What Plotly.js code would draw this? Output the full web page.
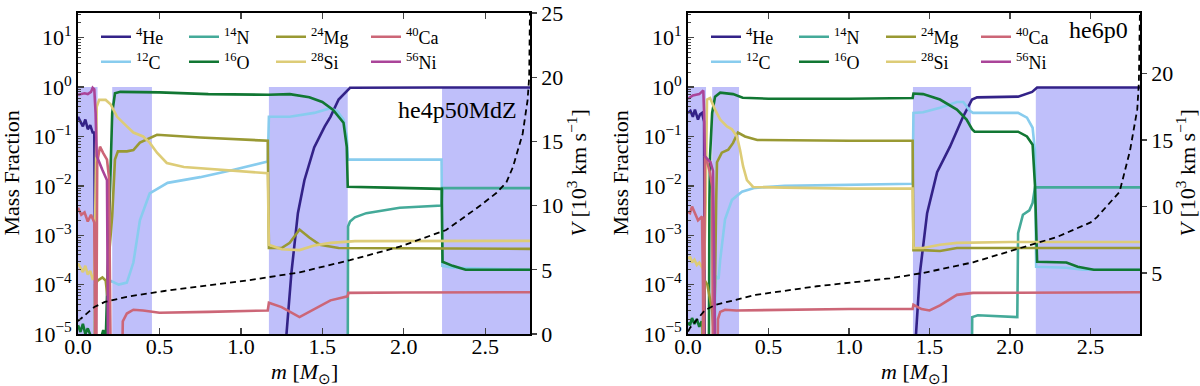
<!DOCTYPE html>
<html>
<head>
<meta charset="utf-8">
<script src="https://cdn.plot.ly/plotly-3.0.1.min.js"></script>
<style>
  body { margin: 0; background: #fff; }
  #chart { width: 1200px; height: 386px; }
</style>
</head>
<body>
<div id="chart"></div>
<script>
// values (mass fraction vs enclosed mass, V in 10^3 km/s)

// --- left panel: he4p50MdZ ---
const heL_x = [0, 0.015, 0.03, 0.045, 0.06, 0.075, 0.09, 0.1, 0.105, 0.11, 1.27, 1.28, 1.31, 1.35, 1.39, 1.45, 1.515, 1.55, 1.6, 1.67, 2.2, 2.775];
const heL_y = [0.25, 0.2, 0.16, 0.22, 0.14, 0.17, 0.12, 0.12, 1e-3, 1e-7, 1e-7, 1e-5, 1.7e-4, 2.8e-3, 1.3e-2, 6e-2, 0.16, 0.25, 0.56, 0.97, 0.98, 0.98];
const cL_x = [0.178, 0.185, 0.2, 0.25, 0.3, 0.34, 0.38, 0.44, 0.55, 0.75, 0.95, 1.165, 1.172, 1.3, 1.45, 1.545, 1.59, 1.63, 1.65, 1.657, 2.232, 2.237, 2.3, 2.775];
const cL_y = [1e-7, 9e-5, 1.2e-4, 1e-4, 1.1e-4, 2.8e-4, 2e-3, 7e-3, 1.15e-2, 1.5e-2, 2.1e-2, 3.1e-2, 0.25, 0.25, 0.3, 0.37, 0.33, 0.22, 0.1, 0.034, 0.034, 2.4e-4, 2.2e-4, 2.0e-4];
const nL_x = [1.655, 1.658, 1.67, 1.7, 1.77, 1.85, 1.975, 2.232, 2.237, 2.775];
const nL_y = [1e-7, 1.5e-3, 1.9e-3, 2.3e-3, 2.8e-3, 3.1e-3, 3.6e-3, 4.0e-3, 9e-3, 9e-3];
const oL_x = [0, 0.015, 0.03, 0.045, 0.06, 0.075, 0.085, 0.09, 0.13, 0.14, 0.155, 0.17, 0.18, 0.19, 0.2, 0.21, 0.227, 0.26, 0.5, 0.8, 1.17, 1.3, 1.42, 1.5, 1.565, 1.63, 1.65, 1.656, 1.9, 2.233, 2.238, 2.3, 2.38, 2.775];
const oL_y = [1.5e-5, 1.1e-5, 1.6e-5, 1.0e-5, 1.3e-5, 1.0e-5, 8e-6, 1e-7, 1e-7, 8e-6, 1.2e-5, 7e-6, 1e-4, 2e-3, 2e-2, 0.3, 0.75, 0.8, 0.78, 0.72, 0.7, 0.72, 0.62, 0.5, 0.35, 0.19, 0.062, 0.0096, 0.0092, 0.0087, 2.9e-4, 2.4e-4, 2.0e-4, 2.0e-4];
const mgL_x = [0.1, 0.105, 0.12, 0.15, 0.17, 0.18, 0.185, 0.21, 0.227, 0.245, 0.3, 0.34, 0.38, 0.485, 0.75, 1.165, 1.172, 1.25, 1.3, 1.36, 1.42, 1.485, 1.6, 2.0, 2.775];
const mgL_y = [1e-7, 1e-4, 1.2e-4, 1.4e-4, 1.2e-4, 6e-5, 2.3e-4, 2.5e-3, 3.4e-2, 5e-2, 5e-2, 5.3e-2, 7.5e-2, 0.108, 0.095, 0.082, 5.5e-4, 5.5e-4, 7e-4, 1.3e-3, 9e-4, 6.4e-4, 5.5e-4, 5.4e-4, 5.3e-4];
const siL_x = [0, 0.015, 0.03, 0.045, 0.06, 0.075, 0.09, 0.1, 0.105, 0.115, 0.13, 0.17, 0.2, 0.24, 0.3, 0.34, 0.4, 0.44, 0.485, 0.545, 0.65, 0.9, 1.165, 1.172, 1.25, 1.36, 1.45, 1.55, 1.7, 2.775];
const siL_y = [2.7e-4, 2.2e-4, 1.8e-4, 2.4e-4, 1.6e-4, 1.9e-4, 1.3e-4, 1.3e-4, 5e-3, 0.4, 0.55, 0.55, 0.45, 0.25, 0.16, 0.12, 0.1, 0.075, 0.047, 0.029, 0.024, 0.021, 0.018, 6.4e-4, 5.2e-4, 5.0e-4, 6.2e-4, 7.0e-4, 7.6e-4, 7.7e-4];
const caL_x = [0, 0.02, 0.04, 0.06, 0.08, 0.1, 0.104, 0.11, 0.118, 0.135, 0.155, 0.178, 0.19, 0.205, 0.265, 0.275, 0.3, 0.34, 0.4, 0.5, 0.8, 1.165, 1.172, 1.25, 1.36, 1.45, 1.55, 1.655, 1.66, 2.0, 2.775];
const caL_y = [3.6e-3, 2.6e-3, 2.9e-3, 1.9e-3, 2.6e-3, 1.8e-3, 1e-4, 1e-7, 0.03, 0.062, 0.046, 0.034, 0.015, 1e-7, 1e-7, 1.8e-5, 2.6e-5, 3.1e-5, 3.0e-5, 2.7e-5, 2.8e-5, 3.0e-5, 4.3e-5, 3.5e-5, 2.2e-5, 3.2e-5, 4.8e-5, 5.8e-5, 6.8e-5, 6.9e-5, 7.0e-5];
const niL_x = [0, 0.02, 0.04, 0.06, 0.08, 0.09, 0.1, 0.108, 0.115, 0.15, 0.178, 0.182, 0.186];
const niL_y = [0.7, 0.72, 0.75, 0.72, 0.8, 0.97, 0.9, 0.3, 0.04, 0.021, 0.013, 1e-4, 1e-7];
const vL_x = [0, 0.03, 0.1, 0.165, 0.3, 0.53, 0.8, 1.055, 1.36, 1.67, 1.975, 2.26, 2.47, 2.57, 2.63, 2.67, 2.73, 2.76, 2.77, 2.775];
const vL_y = [1.0, 1.35, 2.1, 2.5, 2.9, 3.35, 3.8, 4.2, 4.8, 5.75, 6.8, 8.1, 10.0, 11.0, 11.8, 13.0, 15.6, 18.2, 20.0, 25.5];
const shadeL = [[0, 0.12], [0.21, 0.454], [1.172, 1.656], [2.235, 2.775]];

// --- right panel: he6p0 ---
const heR_x = [0, 0.015, 0.03, 0.043, 0.062, 0.075, 0.087, 0.095, 0.1, 0.105, 1.41, 1.416, 1.44, 1.485, 1.547, 1.627, 1.677, 1.708, 1.764, 1.795, 2.05, 2.08, 2.137, 2.168, 2.807];
const heR_y = [0.3, 0.33, 0.25, 0.35, 0.22, 0.28, 0.3, 0.22, 0.2, 1e-7, 1e-7, 1e-5, 1.7e-4, 2.8e-3, 1.9e-2, 6.2e-2, 0.14, 0.25, 0.56, 0.62, 0.64, 0.7, 0.8, 0.98, 0.98];
const cR_x = [0.165, 0.17, 0.19, 0.2, 0.23, 0.273, 0.335, 0.416, 0.6, 0.9, 1.395, 1.4, 1.46, 1.565, 1.67, 1.71, 1.75, 1.77, 2.05, 2.105, 2.14, 2.155, 2.162, 2.35, 2.45, 2.807];
const cR_y = [1e-7, 1.5e-4, 1.3e-4, 3.2e-4, 2.1e-3, 5.2e-3, 7.6e-3, 9.1e-3, 1.0e-2, 1.05e-2, 1.1e-2, 0.3, 0.31, 0.38, 0.5, 0.5, 0.33, 0.3, 0.3, 0.24, 0.15, 0.05, 2.3e-4, 2.2e-4, 2.0e-4, 2.0e-4];
const nR_x = [1.76, 1.765, 1.8, 2.045, 2.05, 2.08, 2.12, 2.14, 2.155, 2.807];
const nR_y = [1e-7, 2.2e-5, 2.4e-5, 2.2e-5, 1.1e-3, 2.6e-3, 3.2e-3, 4.5e-3, 9.3e-3, 9.3e-3];
const oR_x = [0, 0.012, 0.025, 0.04, 0.055, 0.07, 0.085, 0.095, 0.1, 0.128, 0.133, 0.137, 0.15, 0.168, 0.2, 0.28, 0.34, 0.5, 1.0, 1.395, 1.4, 1.46, 1.565, 1.67, 1.73, 1.764, 1.78, 2.05, 2.105, 2.14, 2.155, 2.168, 2.35, 2.42, 2.52, 2.807];
const oR_y = [1.7e-5, 1.5e-5, 2.1e-5, 1.6e-5, 2.0e-5, 1.4e-5, 1.8e-5, 1.2e-5, 1e-7, 1e-7, 5e-3, 0.04, 0.3, 0.64, 0.77, 0.72, 0.61, 0.58, 0.58, 0.6, 0.74, 0.72, 0.56, 0.35, 0.22, 0.14, 0.125, 0.125, 0.1, 0.068, 0.01, 2.9e-4, 2.8e-4, 2.3e-4, 2.0e-4, 2.0e-4];
const mgR_x = [0.085, 0.09, 0.1, 0.105, 0.12, 0.15, 0.16, 0.168, 0.175, 0.18, 0.21, 0.25, 0.28, 0.31, 0.354, 0.43, 1.0, 1.395, 1.4, 1.46, 1.565, 1.67, 2.0, 2.807];
const mgR_y = [1e-7, 1.3e-5, 5e-5, 1.2e-4, 1e-4, 3e-5, 1e-5, 1e-4, 5e-3, 0.03, 0.047, 0.054, 0.074, 0.12, 0.1, 0.085, 0.082, 0.082, 5.0e-4, 5.0e-4, 4.8e-4, 5.5e-4, 5.5e-4, 5.5e-4];
const siR_x = [0, 0.012, 0.025, 0.04, 0.055, 0.07, 0.085, 0.1, 0.11, 0.118, 0.137, 0.168, 0.2, 0.242, 0.273, 0.304, 0.323, 0.342, 0.366, 0.404, 0.6, 1.0, 1.395, 1.4, 1.46, 1.565, 1.67, 2.0, 2.807];
const siR_y = [3.3e-4, 3.7e-4, 2.8e-4, 3.2e-4, 2.5e-4, 2.8e-4, 2.3e-4, 2.0e-4, 5e-3, 0.56, 0.6, 0.35, 0.22, 0.16, 0.14, 0.1, 0.054, 0.025, 0.013, 0.0095, 0.0092, 0.0088, 0.0088, 5.5e-4, 5.5e-4, 6.4e-4, 7.0e-4, 7.3e-4, 7.3e-4];
const caR_x = [0, 0.012, 0.025, 0.043, 0.062, 0.087, 0.093, 0.098, 0.105, 0.12, 0.137, 0.15, 0.156, 0.18, 0.186, 0.2, 0.23, 0.3, 0.6, 1.0, 1.395, 1.4, 1.45, 1.5, 1.565, 1.67, 1.77, 2.807];
const caR_y = [3.0e-3, 2.8e-3, 3.8e-3, 2.8e-3, 2.0e-3, 2.4e-3, 1e-4, 1e-7, 0.04, 0.03, 0.018, 0.0096, 1e-7, 1e-7, 2.0e-5, 2.8e-5, 3.1e-5, 3.0e-5, 3.1e-5, 3.2e-5, 3.2e-5, 3.9e-5, 3.2e-5, 3.0e-5, 3.8e-5, 6.2e-5, 6.8e-5, 7.0e-5];
const niR_x = [0, 0.015, 0.03, 0.05, 0.07, 0.085, 0.095, 0.1, 0.105, 0.12, 0.14, 0.155, 0.165, 0.17];
const niR_y = [0.58, 0.62, 0.68, 0.7, 0.72, 0.8, 0.85, 0.3, 0.04, 0.035, 0.03, 0.02, 1e-4, 1e-7];
const vR_x = [0, 0.012, 0.105, 0.17, 0.42, 0.8, 1.255, 1.46, 1.77, 2.08, 2.29, 2.5, 2.54, 2.68, 2.745, 2.79, 2.8, 2.807];
const vR_y = [0.6, 0.86, 2.2, 2.6, 3.35, 4.0, 4.6, 5.0, 5.8, 6.9, 7.7, 8.8, 9.2, 11.1, 14.2, 17.3, 19.3, 25];
const shadeR = [[0, 0.112], [0.15, 0.317], [1.397, 1.758], [2.16, 2.807]];

// species: plotting order, labels, colours (Tol muted)
const speciesNames = ['He4', 'C12', 'N14', 'O16', 'Mg24', 'Si28', 'Ca40', 'Ni56'];
const speciesLabels = ['<sup>4</sup>He', '<sup>12</sup>C', '<sup>14</sup>N', '<sup>16</sup>O',
                       '<sup>24</sup>Mg', '<sup>28</sup>Si', '<sup>40</sup>Ca', '<sup>56</sup>Ni'];
const speciesColors = ['#332288', '#88CCEE', '#44AA99', '#117733', '#999933', '#DDCC77', '#CC6677', '#AA4499'];
const massTicks = [0, 0.5, 1, 1.5, 2, 2.5];
const fracTicks = [1e-5, 1e-4, 1e-3, 1e-2, 1e-1, 1, 10];
const fracTickText = ['10<sup>−5</sup>', '10<sup>−4</sup>', '10<sup>−3</sup>', '10<sup>−2</sup>',
                      '10<sup>−1</sup>', '10<sup>0</sup>', '10<sup>1</sup>'];

const W = 1200, H = 386;
const FONT = 'Liberation Serif';
const plotTop = 13, plotBottom = 334;

const panels = [
  { xa: 'x', ya: 'y', va: 'y2', left: 78, right: 530, xmax: 2.775,
    vrange: [0, 25], vticks: [0, 5, 10, 15, 20, 25], name: 'he4p50MdZ', namePos: [519, 110],
    fracTitleX: 11, velTitleX: 576,
    series: [[heL_x, heL_y], [cL_x, cL_y], [nL_x, nL_y], [oL_x, oL_y], [mgL_x, mgL_y], [siL_x, siL_y], [caL_x, caL_y], [niL_x, niL_y]],
    vel: [vL_x, vL_y], shade: shadeL },
  { xa: 'x2', ya: 'y3', va: 'y4', left: 688, right: 1140, xmax: 2.807,
    vrange: [0.41, 24.55], vticks: [5, 10, 15, 20], name: 'he6p0', namePos: [1130, 30],
    fracTitleX: 620, velTitleX: 1185,
    series: [[heR_x, heR_y], [cR_x, cR_y], [nR_x, nR_y], [oR_x, oR_y], [mgR_x, mgR_y], [siR_x, siR_y], [caR_x, caR_y], [niR_x, niR_y]],
    vel: [vR_x, vR_y], shade: shadeR }
];

// legend: 4 columns x 2 rows, filled column-wise like the original
const legendTextOffset = [60, 148, 235, 330];   // px from plot left edge
const legendRowY = [37, 62];

const traces = [];
const layout = {
  width: W, height: H,
  margin: { l: 0, r: 0, t: 0, b: 0 },
  paper_bgcolor: '#fff', plot_bgcolor: '#fff',
  font: { family: FONT, color: '#000', size: 20 },
  showlegend: true,
  annotations: []
};

let legendCount = 0;
panels.forEach((p) => {
  const ySuffix = p.ya.slice(1), xSuffix = p.xa.slice(1);

  // shaded zones as a filled polygon trace
  const sx = [], sy = [];
  p.shade.forEach(([a, b]) => { sx.push(a, a, b, b, null); sy.push(1e-6, 1, 1, 1e-6, null); });
  traces.push({ x: sx, y: sy, xaxis: p.xa, yaxis: p.ya, mode: 'none', fill: 'toself',
    fillcolor: 'rgb(191,191,250)', showlegend: false, hoverinfo: 'skip' });

  speciesNames.forEach((sp, i) => {
    legendCount++;
    const lid = legendCount === 1 ? 'legend' : 'legend' + legendCount;
    traces.push({ x: p.series[i][0], y: p.series[i][1], xaxis: p.xa, yaxis: p.ya,
      mode: 'lines', name: speciesLabels[i], legend: lid,
      line: { color: speciesColors[i], width: 2.6 } });
    const col = Math.floor(i / 2), row = i % 2;
    layout[lid] = {
      x: (p.left + legendTextOffset[col] - 42) / W, xanchor: 'left',
      y: 1 - legendRowY[row] / H, yanchor: 'middle',
      bgcolor: 'rgba(0,0,0,0)', borderwidth: 0,
      font: { family: FONT, size: 18, color: '#000' }
    };
  });

  traces.push({ x: p.vel[0], y: p.vel[1], xaxis: p.xa, yaxis: p.va, mode: 'lines',
    line: { color: '#000', width: 1.8, dash: '6px,4px' }, showlegend: false });

  const xKey = 'xaxis' + (xSuffix || ''), yKey = 'yaxis' + (ySuffix || ''), vKey = 'yaxis' + p.va.slice(1);
  layout[xKey] = {
    domain: [p.left / W, p.right / W], range: [0, p.xmax], anchor: p.ya,
    tickvals: massTicks, tickformat: '.1f', ticks: 'inside', ticklen: 6, tickwidth: 1.3,
    ticklabelstandoff: -8,
    showline: true, linewidth: 1.8, linecolor: '#000', mirror: 'ticks',
    showgrid: false, zeroline: false, automargin: false,
    tickfont: { family: FONT, size: 22 }
  };
  layout[yKey] = {
    domain: [1 - plotBottom / H, 1 - plotTop / H], type: 'log', range: [-5, 1.5], anchor: p.xa,
    tickvals: fracTicks, ticktext: fracTickText, ticks: 'inside', ticklen: 6, tickwidth: 1.3,
    minor: { ticks: 'inside', ticklen: 3, tickwidth: 1, dtick: 'D1', showgrid: false },
    showline: true, linewidth: 1.8, linecolor: '#000',
    showgrid: false, zeroline: false, automargin: false,
    tickfont: { family: FONT, size: 22 }
  };
  layout[vKey] = {
    overlaying: p.ya, side: 'right', anchor: p.xa, range: p.vrange, tickvals: p.vticks,
    ticks: 'outside', ticklen: 5, tickwidth: 1.3,
    showline: true, linewidth: 1.8, linecolor: '#000',
    showgrid: false, zeroline: false, automargin: false,
    tickfont: { family: FONT, size: 22 }
  };

  // axis titles, placed where the original has them
  const midY = 1 - (plotTop + plotBottom) / 2 / H;
  layout.annotations.push({ text: '<i>m</i> [<i>M</i><sub>⊙</sub>]', xref: 'paper', yref: 'paper',
    x: (p.left + p.right) / 2 / W, y: 1 - 373 / H, xanchor: 'center', yanchor: 'middle',
    showarrow: false, font: { family: FONT, size: 22, color: '#000' } });
  layout.annotations.push({ text: 'Mass Fraction', xref: 'paper', yref: 'paper',
    x: p.fracTitleX / W, y: midY, xanchor: 'center', yanchor: 'middle', textangle: -90,
    showarrow: false, font: { family: FONT, size: 22, color: '#000' } });
  layout.annotations.push({ text: '<i>V</i> [10<sup>3</sup> km s<sup>−1</sup>]', xref: 'paper', yref: 'paper',
    x: p.velTitleX / W, y: midY, xanchor: 'center', yanchor: 'middle', textangle: -90,
    showarrow: false, font: { family: FONT, size: 22, color: '#000' } });

  layout.annotations.push({ text: p.name, xref: 'paper', yref: 'paper',
    x: p.namePos[0] / W, y: 1 - p.namePos[1] / H, xanchor: 'right', yanchor: 'middle',
    showarrow: false, font: { family: FONT, size: 24, color: '#000' } });
});

Plotly.newPlot('chart', traces, layout, { staticPlot: true });
</script>
</body>
</html>
